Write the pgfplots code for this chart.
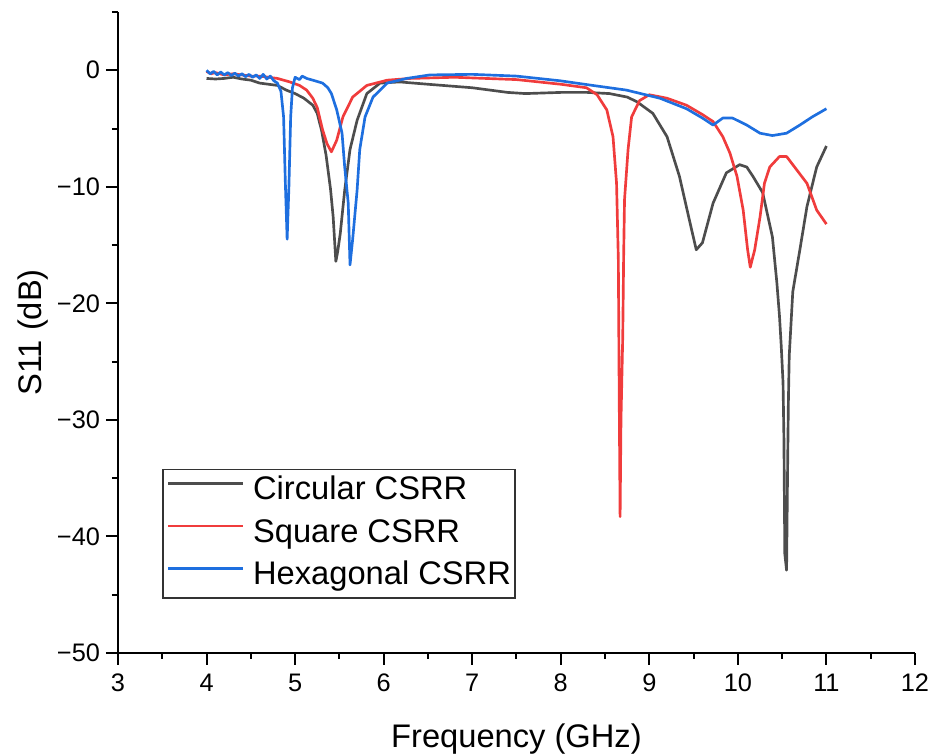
\documentclass[border=0pt]{standalone}
\usepackage{pgfplots}
\pgfplotsset{compat=1.18}
\usepackage{fontspec}
\setmainfont{Liberation Sans}
\definecolor{cblk}{HTML}{4D4D4D}
\definecolor{cred}{HTML}{F03C3C}
\definecolor{cblu}{HTML}{1E6FDF}
\begin{document}
\begin{tikzpicture}
\begin{axis}[name=ax, scale only axis, width=597.75pt, height=480.75pt,
  xmin=3, xmax=12, ymin=-50, ymax=5,
  axis x line*=bottom, axis y line*=left,
  axis line style={line width=1.8pt, -},
  xtick={3,4,...,12}, ytick={-50,-40,...,0},
  xticklabels={3,4,5,6,7,8,9,10,11,12},
  yticklabels={−50,−40,−30,−20,−10,0},
  minor xtick={3.5,4.5,...,11.5}, minor ytick={-45,-35,...,5},
  tick align=outside, major tick length=9pt, minor tick length=4.5pt,
  every tick/.style={black, line width=1.5pt},
  tick label style={font=\fontsize{19}{21}\selectfont},
  xticklabel style={yshift=-3pt},
  yticklabel style={xshift=-1pt},
  xlabel={Frequency (GHz)}, ylabel={S11 (dB)},
  label style={font=\fontsize{24.5}{28}\selectfont},
  xlabel style={at={(axis description cs:0.5,0)}, anchor=base, yshift=-71.25pt},
  ylabel style={at={([xshift=-57pt]axis description cs:0,0.5)}, anchor=base},
  clip=false,
  legend style={at={(0.0552,0.0842)}, anchor=south west, draw=black!80, line width=1.2pt,
    font=\fontsize{24.5}{28}\selectfont, inner xsep=3pt, inner ysep=5pt,
    row sep=9.5pt, column sep=6.75pt,
    nodes={inner sep=0pt, text height=17.5pt, text depth=5pt}},
  legend cell align=left,
  legend image code/.code={\draw[#1, line width=2pt] (0pt,6pt) -- (56pt,6pt);},
  every axis plot/.append style={line width=2pt, line join=round},
]
\addplot[cblk] coordinates {
(4.00,-0.7) (4.10,-0.75) (4.20,-0.7) (4.30,-0.6) (4.40,-0.75) (4.50,-0.85) (4.60,-1.1) (4.70,-1.2) (4.80,-1.3)
(4.90,-1.7) (5.00,-2.0) (5.10,-2.4) (5.20,-3.0) (5.25,-3.7) (5.30,-5.2) (5.35,-7.3) (5.40,-10.2)
(5.43,-12.6) (5.46,-16.4) (5.48,-15.6) (5.51,-14.0) (5.56,-10.3) (5.62,-6.8) (5.70,-4.3) (5.81,-2.0)
(5.96,-1.1) (6.18,-1.0) (6.50,-1.2) (7.00,-1.5) (7.40,-1.9) (7.60,-2.0) (8.00,-1.9) (8.30,-1.9)
(8.55,-2.0) (8.75,-2.3) (8.86,-2.7) (9.04,-3.7) (9.20,-5.7) (9.34,-9.1) (9.46,-13.1) (9.53,-15.4)
(9.60,-14.8) (9.72,-11.4) (9.87,-8.8) (10.02,-8.1) (10.10,-8.3) (10.17,-9.1) (10.28,-10.5)
(10.39,-14.3) (10.44,-18.2) (10.47,-21.1) (10.49,-23.7) (10.51,-26.8) (10.52,-31.6) (10.53,-41.5)
(10.55,-42.9) (10.56,-35.3) (10.57,-28.6) (10.58,-24.5) (10.62,-19.0) (10.70,-15.4) (10.78,-11.7)
(10.89,-8.3) (11.00,-6.5)
};
\addlegendentry{Circular CSRR}
\addplot[cred] coordinates {
(4.00,-0.1) (4.05,-0.3) (4.10,-0.2) (4.20,-0.4) (4.30,-0.3) (4.40,-0.4) (4.50,-0.5) (4.60,-0.5)
(4.70,-0.6) (4.80,-0.7) (4.94,-1.0) (5.05,-1.3) (5.13,-1.7) (5.20,-2.4) (5.25,-3.2) (5.31,-5.1)
(5.36,-6.3) (5.41,-7.0) (5.47,-6.0) (5.54,-4.0) (5.65,-2.3) (5.81,-1.3) (6.04,-0.85) (6.30,-0.7)
(6.80,-0.6) (7.50,-0.8) (8.00,-1.2) (8.29,-1.5) (8.41,-2.1) (8.52,-3.4) (8.59,-5.7) (8.63,-9.7)
(8.65,-16.2) (8.66,-28.0) (8.67,-38.3) (8.68,-30.0) (8.70,-22.8) (8.71,-16.0) (8.72,-11.1)
(8.76,-6.8) (8.80,-4.0) (8.89,-2.6) (9.00,-2.1) (9.20,-2.4) (9.42,-3.0) (9.60,-3.8) (9.72,-4.4)
(9.83,-5.7) (9.91,-7.1) (9.99,-9.1) (10.06,-12.0) (10.11,-15.4) (10.14,-16.9) (10.19,-15.4)
(10.25,-12.6) (10.30,-9.7) (10.36,-8.3) (10.47,-7.4) (10.55,-7.4) (10.66,-8.5) (10.78,-9.7)
(10.89,-12.0) (11.00,-13.2)
};
\addlegendentry{Square CSRR}
\addplot[cblu] coordinates {
(4.00,0.0) (4.04,-0.3) (4.08,-0.1) (4.12,-0.4) (4.16,-0.15) (4.20,-0.4) (4.24,-0.2) (4.28,-0.45)
(4.32,-0.25) (4.36,-0.5) (4.40,-0.3) (4.44,-0.55) (4.48,-0.35) (4.52,-0.6) (4.56,-0.4) (4.60,-0.7)
(4.64,-0.35) (4.68,-0.75) (4.72,-0.5) (4.76,-0.9) (4.80,-1.1) (4.84,-1.8) (4.87,-4.0) (4.89,-9.7)
(4.91,-14.5) (4.93,-10.0) (4.95,-4.0) (4.97,-1.5) (5.00,-0.6) (5.05,-0.8) (5.08,-0.5) (5.13,-0.7)
(5.20,-0.85) (5.31,-1.1) (5.37,-1.5) (5.41,-2.0) (5.47,-3.4) (5.53,-5.4) (5.56,-8.3) (5.60,-11.4)
(5.62,-16.7) (5.65,-14.5) (5.70,-10.3) (5.73,-6.8) (5.79,-4.0) (5.88,-2.3) (6.04,-1.1) (6.26,-0.7)
(6.52,-0.4) (7.00,-0.35) (7.50,-0.5) (7.99,-0.9) (8.36,-1.3) (8.74,-1.7) (9.12,-2.4) (9.42,-3.3)
(9.60,-4.1) (9.72,-4.7) (9.83,-4.1) (9.94,-4.1) (10.10,-4.7) (10.25,-5.4) (10.39,-5.6) (10.55,-5.4)
(10.70,-4.7) (10.84,-4.0) (11.00,-3.3)
};
\addlegendentry{Hexagonal CSRR}
\end{axis}
\pgfresetboundingbox
\path (ax.south west) ++(-88.5pt,-77.25pt) rectangle ++(699.75pt,567pt);
\end{tikzpicture}
\end{document}
